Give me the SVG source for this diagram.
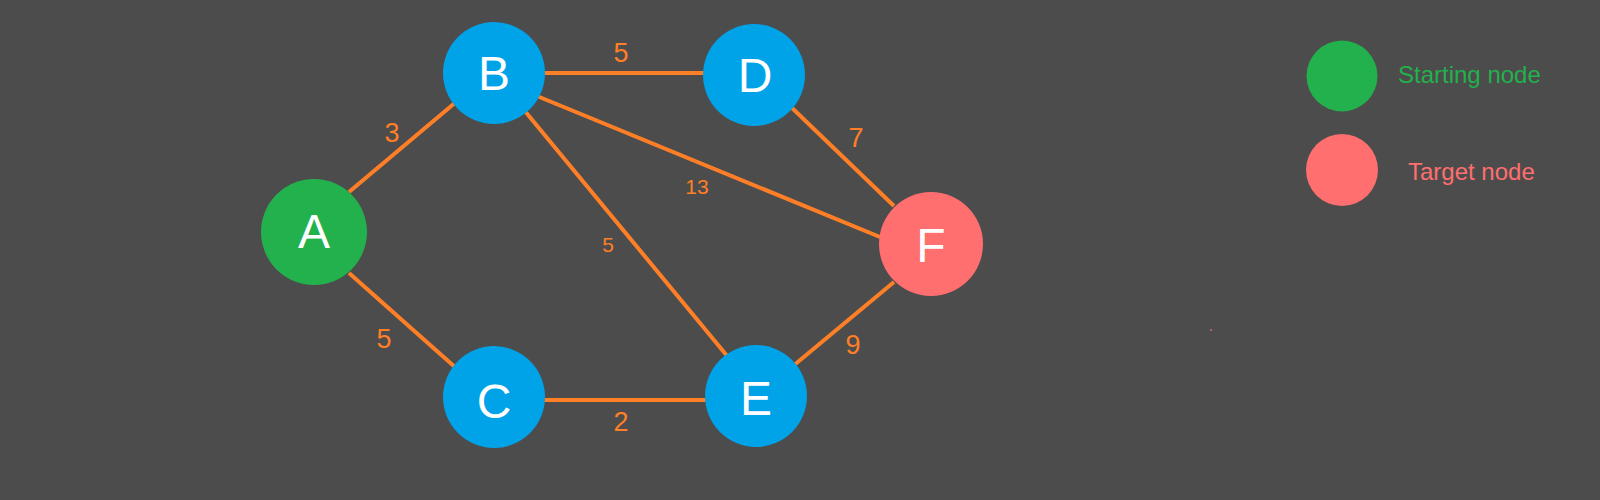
<svg xmlns="http://www.w3.org/2000/svg" width="1600" height="500" viewBox="0 0 1600 500">
<style>
.edge{stroke:#ff7f27;stroke-width:4;fill:none}
.w{font-family:"Liberation Sans",Arial,sans-serif;fill:#ff7f27;text-anchor:middle}
.big{font-size:27px}
.small{font-size:21px}
.lbl{font-family:"Liberation Sans",Arial,sans-serif;font-size:48px;fill:#ffffff;text-anchor:middle}
.blue{fill:#00a2e8}
.green{fill:#22b14c}
.pink{fill:#ff6f6f}
.leg{font-family:"Liberation Sans",Arial,sans-serif;font-size:24px}
</style>
<rect width="1600" height="500" fill="#4c4c4c"/>
<g id="connectors">
<line class="edge" x1="349" y1="192" x2="456" y2="102"/>
<line class="edge" x1="349" y1="273" x2="456" y2="368"/>
<line class="edge" x1="540" y1="73" x2="706" y2="73"/>
<line class="edge" x1="524" y1="110" x2="728" y2="357"/>
<line class="edge" x1="537" y1="96" x2="880" y2="237"/>
<line class="edge" x1="542" y1="400" x2="708" y2="400"/>
<line class="edge" x1="790" y1="106" x2="894" y2="206"/>
<line class="edge" x1="793" y1="366" x2="894" y2="282"/>
</g>
<g id="edge-labels">
<text class="w big" x="392" y="142">3</text>
<text class="w big" x="384" y="348">5</text>
<text class="w big" x="621" y="62">5</text>
<text class="w small" x="697" y="194">13</text>
<text class="w small" x="608" y="252">5</text>
<text class="w big" x="621" y="431">2</text>
<text class="w big" x="856" y="147">7</text>
<text class="w big" x="853" y="354">9</text>
</g>
<g id="node-A"><circle class="green" cx="314" cy="232" r="53"/><text class="lbl" x="314" y="248">A</text></g>
<g id="node-B"><circle class="blue" cx="494" cy="73" r="51"/><text class="lbl" x="494" y="90">B</text></g>
<g id="node-C"><circle class="blue" cx="494" cy="397" r="51"/><text class="lbl" x="494" y="418">C</text></g>
<g id="node-D"><circle class="blue" cx="754" cy="75" r="51"/><text class="lbl" x="755" y="92">D</text></g>
<g id="node-E"><circle class="blue" cx="756" cy="396" r="51"/><text class="lbl" x="756" y="415">E</text></g>
<g id="node-F"><circle class="pink" cx="931" cy="244" r="52"/><text class="lbl" x="931" y="262">F</text></g>
<g id="legend-start"><circle class="green" cx="1342" cy="76" r="35.5"/><text class="leg" x="1398" y="83" fill="#22b14c">Starting node</text></g>
<g id="legend-target"><circle class="pink" cx="1342" cy="170" r="36"/><text class="leg" x="1408" y="180" fill="#ff6f6f">Target node</text></g>
<rect x="1210" y="329" width="2" height="2" fill="#b86060"/>
</svg>
